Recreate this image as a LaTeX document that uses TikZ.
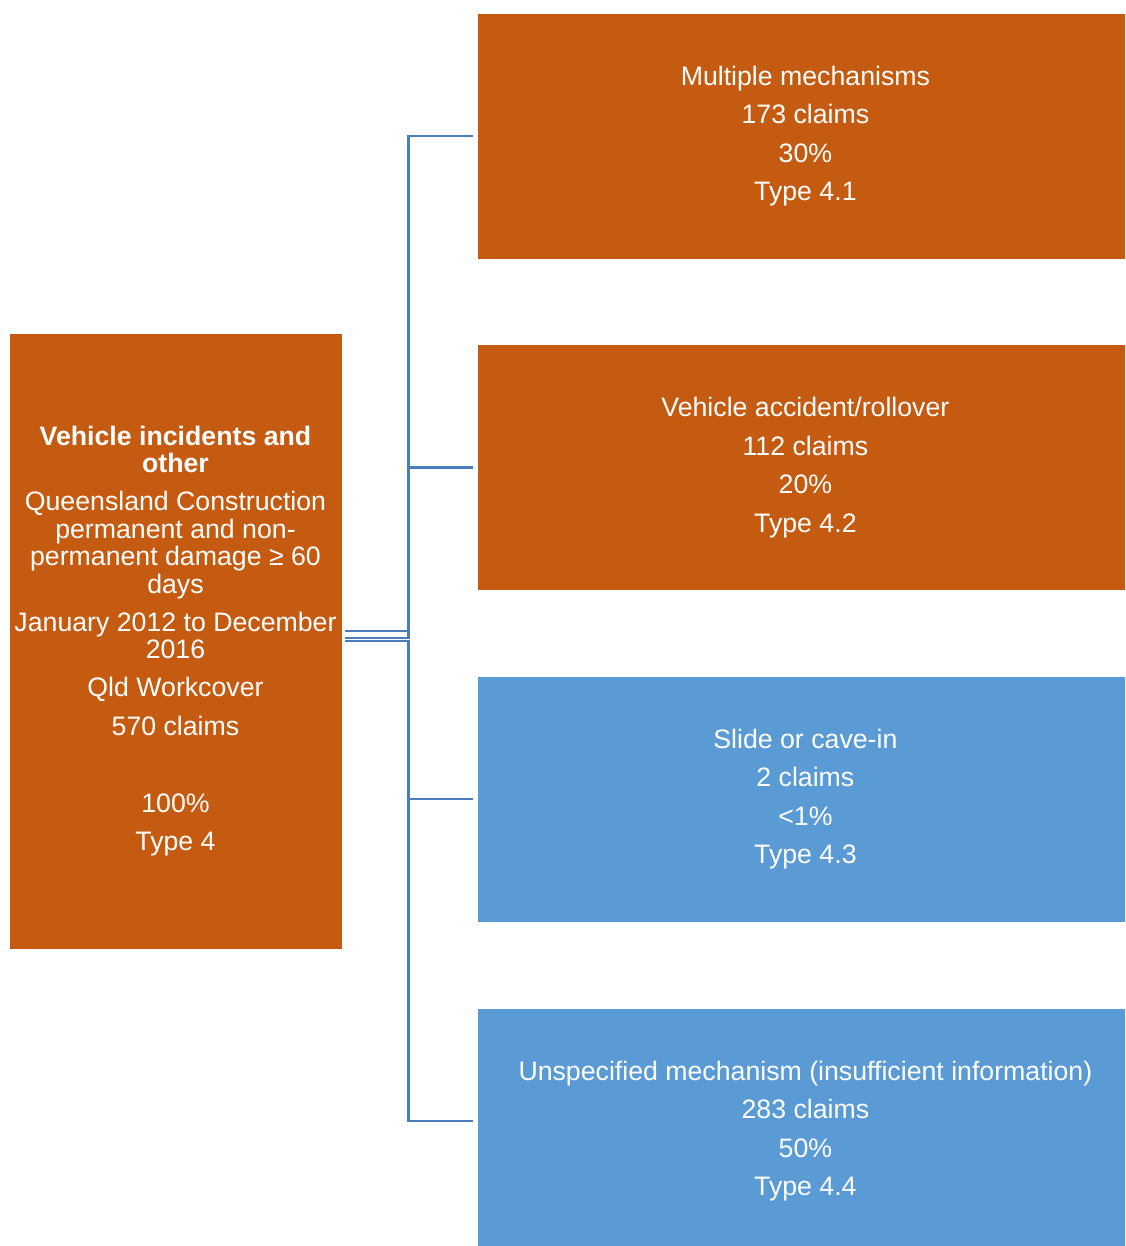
\documentclass[tikz,border=0pt]{standalone}
\usepackage{fontspec}
\setmainfont{Liberation Sans}
\usepackage{xcolor}
\usetikzlibrary{positioning}
\definecolor{rust}{HTML}{C55A11}
\definecolor{sky}{HTML}{5B9BD5}
\definecolor{linkblue}{HTML}{4A7EBB}

\begin{document}
\begin{tikzpicture}[x=1pt,y=-1pt,
  box/.style={fill=#1, draw=white, line width=0.8pt, text=white, align=center,
    font=\fontsize{26.7}{27.5}\selectfont, inner sep=0pt},
  child/.style={box=#1, minimum width=656, minimum height=246, anchor=west},
  link/.style={draw=linkblue, line width=2.5pt, shorten <=3pt, shorten >=4pt}]
\clip (0,0) rectangle (1125,1246);
% root
\node[box=rust, minimum width=333, minimum height=616] (root) at (175.5,641) {%
 \textbf{Vehicle incidents and}\\\textbf{other}\\[10.5pt]
 Queensland Construction\\permanent and non-\\permanent damage ≥ 60\\days\\[10.5pt]
 January 2012 to December\\2016\\[10.5pt]
 Qld Workcover\\[11pt]570 claims\\[49.5pt]100\%\\[10.5pt]Type 4};
% children
\node[child=rust] (mech) at (477,136) {Multiple mechanisms\\[11pt]173 claims\\[11pt]30\%\\[11pt]Type 4.1};
\node[child=rust] (roll) at (477,467.5) {Vehicle accident/rollover\\[11pt]112 claims\\[11pt]20\%\\[11pt]Type 4.2};
\node[child=sky] (cave) at (477,799) {Slide or cave-in\\[11pt]2 claims\\[11pt]<1\%\\[11pt]Type 4.3};
\node[child=sky] (unspec) at (477,1131) {Unspecified mechanism (insufficient information)\\[11pt]283 claims\\[11pt]50\%\\[11pt]Type 4.4};
% connectors
\draw[link] ([yshift=10pt]root.east) -- ++(66,0) |- (mech.west);
\draw[link] ([yshift=3pt]root.east) -- ++(66,0) |- (roll.west);
\draw[link] (root.east) -- ++(66,0) |- (cave.west);
\draw[link] (root.east) -- ++(66,0) |- ([yshift=10pt]unspec.west);
\end{tikzpicture}
\end{document}
